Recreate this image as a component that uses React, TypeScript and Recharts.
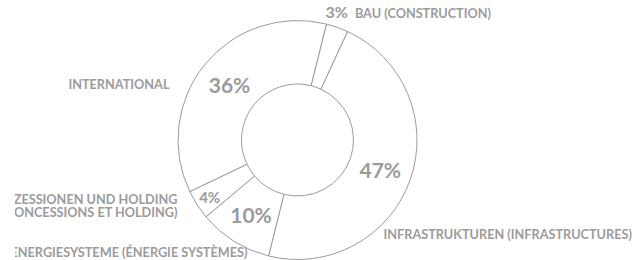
import { Cell, Pie, PieChart } from 'recharts'

const names = [
  'BAU (CONSTRUCTION)',
  'INFRASTRUKTUREN (INFRASTRUCTURES)',
  'ENERGIESYSTEME (ÉNERGIE SYSTÈMES)',
  'KONZESSIONEN UND HOLDING\n(CONCESSIONS ET HOLDING)',
  'INTERNATIONAL',
]
const shares = [3, 47, 10, 4, 36]

const data = names.map((name, i) => ({ name, value: shares[i] }))

const GREY = '#9b9b9b'
const FONT = 'Lato, "Open Sans", sans-serif'
const RAD = Math.PI / 180

// where each category caption sits, relative to the pie centre
const captionSpot: Record<string, { dx: number; dy: number; anchor: 'start' | 'end' }> = {
  'BAU (CONSTRUCTION)': { dx: 30, dy: -122, anchor: 'start' },
  'INFRASTRUKTUREN (INFRASTRUCTURES)': { dx: 86, dy: 99, anchor: 'start' },
  'ENERGIESYSTEME (ÉNERGIE SYSTÈMES)': { dx: -50, dy: 117, anchor: 'end' },
  'KONZESSIONEN UND HOLDING\n(CONCESSIONS ET HOLDING)': { dx: -120, dy: 64, anchor: 'end' },
  INTERNATIONAL: { dx: -128, dy: -51, anchor: 'end' },
}

function renderLabel(props: any) {
  const { cx, cy, midAngle, innerRadius, outerRadius, percent, name } = props
  const pct = `${Math.round(percent * 100)}%`
  const spot = captionSpot[name]
  const lines = String(name).split('\n')
  const small = percent < 0.035
  const mid = percent < 0.05 ? outerRadius - 15 : (innerRadius + outerRadius) / 2
  const px = cx + mid * Math.cos(-midAngle * RAD)
  const py = cy + mid * Math.sin(-midAngle * RAD)

  return (
    <g fontFamily={FONT} fontWeight={700} fill={GREY}>
      {small ? (
        <text x={cx + spot.dx - 2} y={cy + spot.dy} textAnchor="start">
          <tspan fontSize={16}>{pct}</tspan>
          <tspan fontSize={12.7} dx={7}>
            {lines[0]}
          </tspan>
        </text>
      ) : (
        <>
          <text
            x={px}
            y={py}
            textAnchor="middle"
            dominantBaseline="central"
            fontSize={percent < 0.05 ? 15 : 21}
          >
            {pct}
          </text>
          <text x={cx + spot.dx} y={cy + spot.dy} textAnchor={spot.anchor} fontSize={12.7}>
            {lines.map((l, i) => (
              <tspan key={l} x={cx + spot.dx} dy={i === 0 ? 0 : 13}>
                {l}
              </tspan>
            ))}
          </text>
        </>
      )}
    </g>
  )
}

export default function App() {
  return (
    <div
      style={{
        position: 'absolute',
        left: 15,
        top: 0,
        width: 618,
        height: 260,
        overflow: 'hidden',
      }}
    >
      <PieChart width={618} height={260} margin={{ top: 0, right: 0, bottom: 0, left: 0 }}>
        <Pie
          data={data}
          dataKey="value"
          nameKey="name"
          cx={282.5}
          cy={140}
          innerRadius={56}
          outerRadius={119.5}
          startAngle={76}
          endAngle={-284}
          stroke={GREY}
          strokeWidth={1}
          label={renderLabel}
          labelLine={false}
          isAnimationActive={false}
        >
          {data.map((d) => (
            <Cell key={d.name} fill="#ffffff" />
          ))}
        </Pie>
      </PieChart>
    </div>
  )
}
